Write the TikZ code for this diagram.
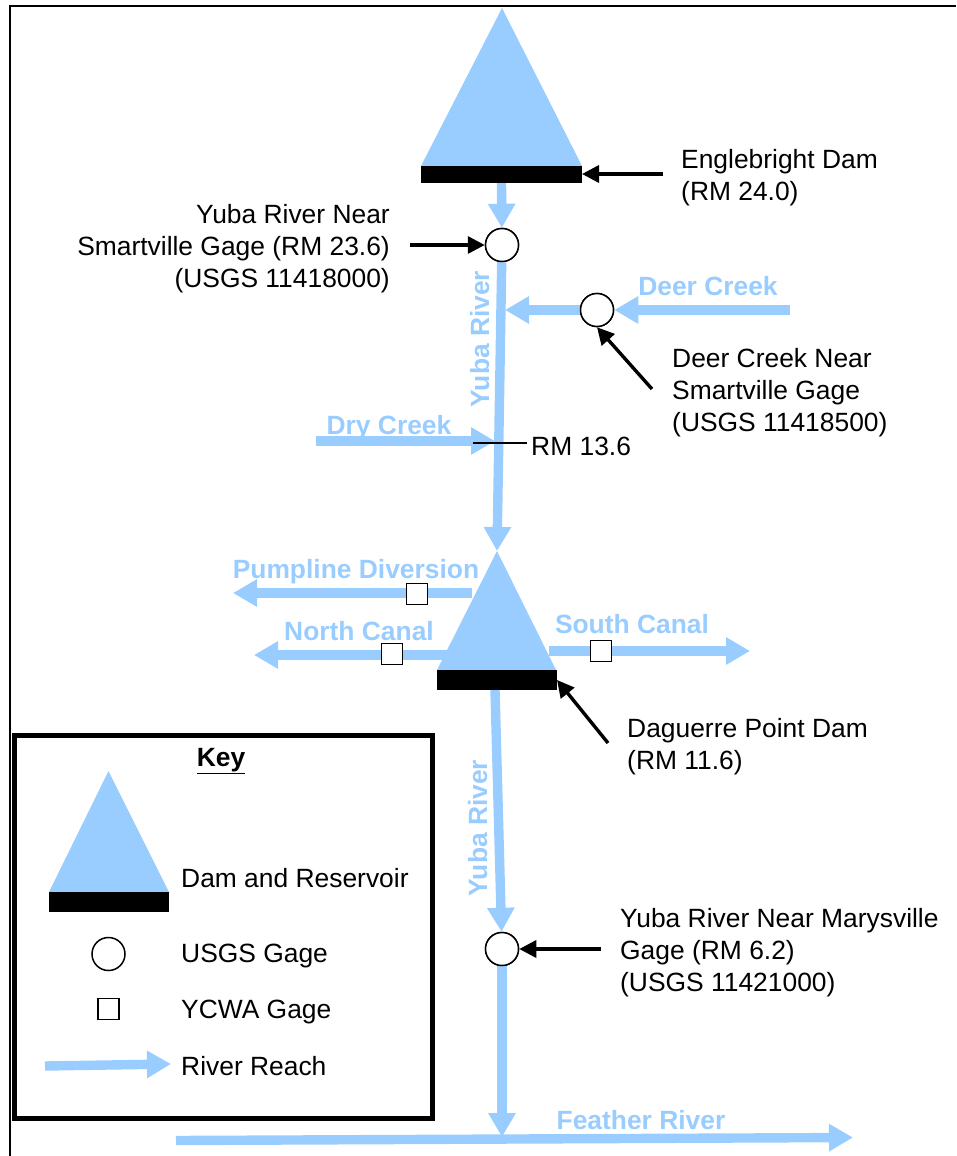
\documentclass[tikz,border=0pt]{standalone}
\usepackage{fontspec}
\setmainfont{Liberation Sans}
\usetikzlibrary{arrows.meta}
\definecolor{riverblue}{HTML}{99CCFF}
\tikzset{
  x=1pt,y=-1pt,
  river/.style={draw=riverblue,line width=9.4pt,-{Triangle[length=24pt,width=26pt]}},
  pointer/.style={draw=black,line width=3.4pt,-{Triangle[length=17pt,width=17pt]}},
  lake/.style={fill=riverblue,draw=none},
  damwall/.style={fill=black,draw=none,inner sep=0pt},
  usgs/.style={circle,draw=black,line width=1.5pt,fill=white,minimum size=33pt,inner sep=0pt},
  ycwa/.style={rectangle,draw=black,line width=1.8pt,fill=white,minimum size=21pt,inner sep=0pt},
  lab/.style={inner sep=0pt,font=\fontsize{26.4}{32}\selectfont,text=black,align=left},
  labr/.style={inner sep=0pt,font=\fontsize{26.4}{32}\selectfont,text=black,align=right},
  rlab/.style={inner sep=0pt,font=\fontsize{26.4}{32}\selectfont\bfseries,text=riverblue},
}
\begin{document}
\begin{tikzpicture}
\useasboundingbox (0,0) rectangle (956,1156);
% frame
\coordinate (fa) at (10,1156); \coordinate (fb) at (10,6); \coordinate (fc) at (956,6);
\draw[line width=2.5pt] (fa) -- (fb) -- (fc);
% coordinates
\coordinate (apexA) at (502,8); \coordinate (blA) at (421,166); \coordinate (brA) at (582,166);
\coordinate (apexB) at (497,551); \coordinate (blB) at (437,670); \coordinate (brB) at (556,670);
\coordinate (apexK) at (108.5,771); \coordinate (blK) at (49,892); \coordinate (brK) at (169,892);
\fill[lake] (apexA) -- (blA) -- (brA) -- cycle;
\node[damwall,minimum width=161pt,minimum height=17pt] (damA) at (501.5,174.5) {};
% nodes (gages defined first for connectors)
\node[usgs] (g1) at (502,245) {};
\node[usgs] (g2) at (597,310) {};
\node[usgs] (g3) at (502,949) {};
\node[damwall,minimum width=120pt,minimum height=20pt] (damB) at (496.5,680) {};
% river coordinates
\coordinate (deerS) at (790,310); \coordinate (deerE) at (505,310);
\coordinate (dryS) at (316,441); \coordinate (dryE) at (495,441);
\coordinate (pumpS) at (472,593); \coordinate (pumpE) at (233,593);
\coordinate (northS) at (447,655); \coordinate (northE) at (254,655);
\coordinate (southS) at (549,651); \coordinate (southE) at (750,651);
\coordinate (lowS) at (495,690);
\coordinate (featherS) at (176,1140.5); \coordinate (featherE) at (853,1137.5);
\coordinate (confl) at (502,1137);
% rivers
\draw[river] (damA.south) -- (g1);
\draw[river] (g1) -- (apexB);
\draw[river] (deerS) -- (g2);
\draw[river] (g2) -- (deerE);
\draw[river] (dryS) -- (dryE);
\draw[river] (pumpS) -- (pumpE);
\draw[river] (northS) -- (northE);
\draw[river] (southS) -- (southE);
\draw[river] (lowS) -- (g3);
\draw[river] (g3) -- (confl);
\draw[river] (featherS) -- (featherE);
% lower reservoir
\fill[lake] (apexB) -- (blB) -- (brB) -- cycle;
\node[damwall,minimum width=120pt,minimum height=20pt] at (damB) {};
% gages on top
\node[usgs] at (g1) {}; \node[usgs] at (g2) {}; \node[usgs] at (g3) {};
\node[ycwa] (s1) at (417,594) {};
\node[ycwa] (s2) at (392,654) {};
\node[ycwa] (s3) at (601,651) {};
% river labels
\node[rlab,anchor=base] (tDeer) at (708,295) {Deer Creek};
\node[rlab,anchor=base] (tDry) at (389,434) {Dry Creek};
\node[rlab,anchor=base] (tPump) at (356,578.5) {Pumpline Diversion};
\node[rlab,anchor=base] (tNorth) at (359,640) {North Canal};
\node[rlab,anchor=base] (tSouth) at (632,633) {South Canal};
\node[rlab,anchor=base] (tFeather) at (641,1129) {Feather River};
\node[rlab,anchor=base,rotate=90] (tYubaU) at (489,339) {Yuba River};
\node[rlab,anchor=base,rotate=90] (tYubaL) at (487,828) {Yuba River};
% black labels
\node[lab,anchor=west] (tEng) at (681,178) {Englebright Dam\\(RM 24.0)};
\node[labr,anchor=east] (tSmart) at (390,249) {Yuba River Near\\Smartville Gage (RM 23.6)\\(USGS 11418000)};
\node[lab,anchor=west] (tDeerG) at (672,393) {Deer Creek Near\\Smartville Gage\\(USGS 11418500)};
\node[lab,anchor=west] (tRM) at (531,446) {RM 13.6};
\node[lab,anchor=west] (tDag) at (627,747) {Daguerre Point Dam\\(RM 11.6)};
\node[lab,anchor=west] (tMary) at (620,953) {Yuba River Near Marysville\\Gage (RM 6.2)\\(USGS 11421000)};
% pointers
\coordinate (pEng) at (663,174); \coordinate (pEngE) at (582,174);
\coordinate (pSm) at (410,245); \coordinate (pDeer) at (652,389);
\coordinate (pDag) at (608,743); \coordinate (pDagE) at (557,680);
\coordinate (pMar) at (601,949);
\coordinate (rmL) at (473,443); \coordinate (rmR) at (527,443);
\draw[pointer] (pEng) -- (pEngE);
\draw[pointer] (pSm) -- (g1);
\draw[pointer] (pDeer) -- (g2.south);
\draw[pointer] (pDag) -- (pDagE);
\draw[pointer] (pMar) -- (g3);
\draw[line width=1.5pt] (rmL) -- (rmR);
% key
\node[draw=black,line width=5pt,fill=white,minimum width=418pt,minimum height=383pt,inner sep=0pt] (keybox) at (223,926.5) {};
\node[inner sep=0pt,anchor=base,font=\fontsize{26.4}{32}\selectfont\bfseries] (tKey) at (221,766) {\underline{Key}};
\fill[lake] (apexK) -- (blK) -- (brK) -- cycle;
\node[damwall,minimum width=120pt,minimum height=20pt] (damK) at (109,902) {};
\node[usgs] (gK) at (108.5,954) {};
\node[ycwa] (sK) at (108.5,1009) {};
\coordinate (kS) at (45,1066); \coordinate (kE) at (171,1064);
\draw[river] (kS) -- (kE);
\node[lab,anchor=base west] (t1) at (181,887) {Dam and Reservoir};
\node[lab,anchor=base west] (t2) at (181,962) {USGS Gage};
\node[lab,anchor=base west] (t3) at (181,1018) {YCWA Gage};
\node[lab,anchor=base west] (t4) at (181,1075) {River Reach};
\end{tikzpicture}
\end{document}
